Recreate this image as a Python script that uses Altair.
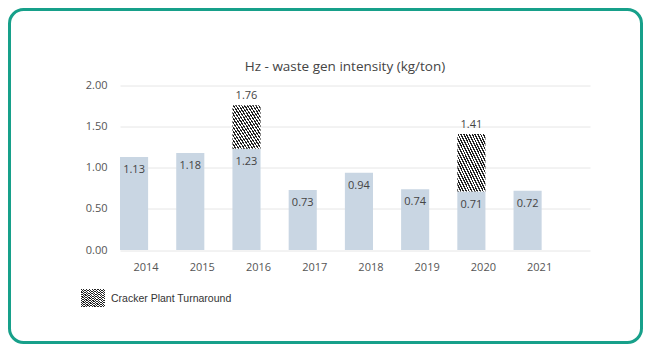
import altair as alt
import pandas as pd

years = ["2014", "2015", "2016", "2017", "2018", "2019", "2020", "2021"]
base_values = [1.13, 1.18, 1.23, 0.73, 0.94, 0.74, 0.71, 0.72]
turnaround_totals = [None, None, 1.76, None, None, None, 1.41, None]
y_ticks = [0.0, 0.5, 1.0, 1.5, 2.0]
title_text = "Hz - waste gen intensity (kg/ton)"
legend_label = "Cracker Plant Turnaround"

df = pd.DataFrame({"year": years, "base": base_values, "total": turnaround_totals})
df_hatch = df.dropna(subset=["total"])

FONT = "Open Sans"
BAR = "#c9d6e3"
TEAL = "#17a08a"


def hatch(n, dark="#222222", light="#ffffff", frac=0.5):
    stops = []
    for i in range(n):
        a = i / n
        b = (i + frac) / n
        c = (i + 1) / n
        stops += [
            alt.GradientStop(offset=a, color=dark),
            alt.GradientStop(offset=b, color=dark),
            alt.GradientStop(offset=b, color=light),
            alt.GradientStop(offset=c, color=light),
        ]
    return alt.Gradient(gradient="linear", stops=stops, x1=0, y1=1, x2=1, y2=0)


W, H = 470, 164.5
PL, PT, PR, PB = 112, 77.5, 53, 94

x_enc = alt.X(
    "year:N",
    sort=years,
    scale=alt.Scale(paddingInner=0.5, paddingOuter=0.43, align=0),
    axis=alt.Axis(
        title=None, labelAngle=0, ticks=False, tickSize=0, domain=False,
        labelFont=FONT, labelFontSize=11, labelColor="#555555",
        labelPadding=11, labelOffset=12, grid=False,
    ),
)
y_scale = alt.Scale(domain=[0, 2])
y_enc = alt.Y(
    "base:Q",
    scale=y_scale,
    axis=alt.Axis(
        title=None, values=y_ticks, format=".2f", ticks=False, tickSize=0,
        domain=False, labelFont=FONT, labelFontSize=11, labelColor="#555555",
        labelPadding=13, grid=True, gridColor="#e6e6e6", gridWidth=1,
    ),
)

base_bars = alt.Chart(df).mark_bar(color=BAR).encode(x=x_enc, y=y_enc)

hatch_bars = alt.Chart(df_hatch).mark_bar(fill=hatch(20)).encode(
    x=alt.X("year:N", sort=years),
    y=alt.Y("base:Q", scale=y_scale),
    y2="total:Q",
)

base_labels = alt.Chart(df).mark_text(
    font=FONT, fontSize=11, color="#444444", dy=13
).encode(
    x=alt.X("year:N", sort=years),
    y=alt.Y("base:Q", scale=y_scale),
    text=alt.Text("base:Q", format=".2f"),
)

total_labels = alt.Chart(df_hatch).mark_text(
    font=FONT, fontSize=11, color="#444444", dy=-9
).encode(
    x=alt.X("year:N", sort=years),
    y=alt.Y("total:Q", scale=y_scale),
    text=alt.Text("total:Q", format=".2f"),
)

one = pd.DataFrame({"label": [legend_label], "title": [title_text]})

title_mark = alt.Chart(one).mark_text(
    font=FONT, fontSize=13.5, color="#444444", align="center", baseline="middle"
).encode(x=alt.value(225), y=alt.value(-18.5), text="title:N")

legend_swatch = alt.Chart(one).mark_rect(fill=hatch(17)).encode(
    x=alt.value(-39), x2=alt.value(-15), y=alt.value(203.5), y2=alt.value(221.5)
)
legend_text = alt.Chart(one).mark_text(
    font="Liberation Sans", fontSize=10.5, color="#333333", align="left", baseline="middle"
).encode(x=alt.value(-9), y=alt.value(213), text="label:N")

border = alt.Chart(one).mark_rect(
    fill="transparent", stroke=TEAL, strokeWidth=3, cornerRadius=14
).encode(
    x=alt.value(-PL + 1.5), x2=alt.value(W + PR - 1.5),
    y=alt.value(-PT + 1.5), y2=alt.value(H + PB - 1.5),
)

chart = (
    alt.layer(base_bars, hatch_bars, base_labels, total_labels, title_mark,
              legend_swatch, legend_text, border)
    .properties(
        width=W,
        height=H,
        autosize=alt.AutoSizeParams(type="none"),
        padding={"left": PL, "top": PT, "right": PR, "bottom": PB},
        background="white",
    )
    .configure_view(stroke=None)
)

chart.save("out.html", embed_options={"renderer": "svg", "actions": False})
